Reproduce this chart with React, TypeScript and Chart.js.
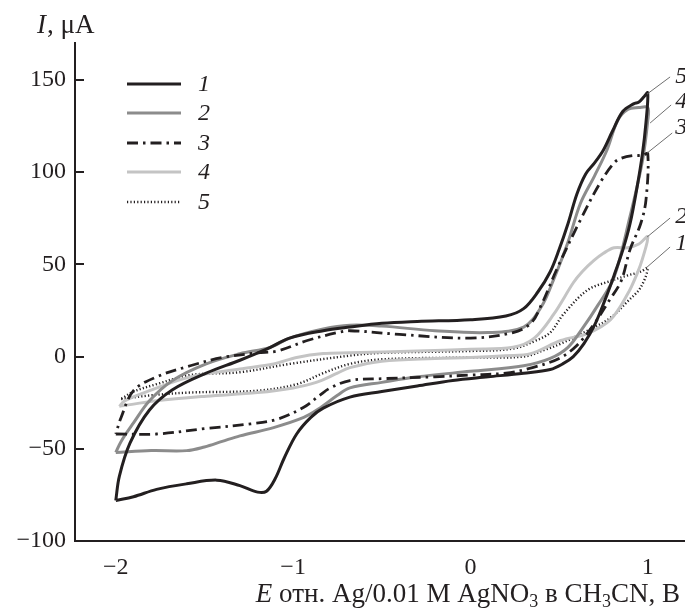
import React, { useEffect, useRef } from "react";
import { Chart, registerables } from "chart.js";
Chart.register(...registerables);

// Curve 1 (black solid): forward (lower) branch then reverse (upper) branch
const E1 = [-2.0, -1.9, -1.77, -1.6, -1.43, -1.3, -1.2, -1.15, -1.1, -1.05, -0.98, -0.9, -0.83, -0.68, -0.5, -0.3, -0.1, 0.1, 0.3, 0.45, 0.52, 0.58, 0.64, 0.7, 0.76, 0.81, 0.86, 0.9, 0.94, 0.97, 0.99, 1.0,
  0.98, 0.95, 0.92, 0.86, 0.8, 0.75, 0.7, 0.65, 0.6, 0.55, 0.5, 0.45, 0.38, 0.3, 0.2, 0.0, -0.3, -0.5, -0.68, -0.83, -1.02, -1.15, -1.3, -1.49, -1.68, -1.81, -1.92, -1.98, -2.0];
const I1 = [-78, -76, -72, -69, -67, -70, -73.5, -73, -66, -55, -42, -33, -28, -22, -19, -16, -13, -11, -9, -7, -4, 0, 7, 17, 31, 44, 58, 72, 92, 110, 127, 143,
  141, 138, 137, 133, 122, 112, 105, 99, 88, 72, 58, 46, 35, 26, 22, 20, 19, 18, 16, 14, 10, 4, -2, -9, -18, -29, -47, -65, -78];

// Curve 2 (gray solid)
const E2 = [-2.0, -1.8, -1.6, -1.5, -1.4, -1.3, -1.11, -0.94, -0.85, -0.75, -0.68, -0.5, -0.3, 0.0, 0.3, 0.45, 0.55, 0.63, 0.72, 0.81, 0.9, 0.97, 1.0, 1.0,
  0.95, 0.887, 0.83, 0.77, 0.7, 0.62, 0.55, 0.47, 0.4, 0.3, 0.1, -0.2, -0.5, -0.68, -0.83, -1.02, -1.13, -1.3, -1.49, -1.68, -1.81, -1.9, -1.97, -2.0];
const I2 = [-52, -51, -51, -49, -46, -43, -38.5, -33, -28, -21, -17, -14, -11, -8, -5, -1, 5, 15, 28, 43, 76, 106, 128, 135,
  135, 134, 128, 112, 98, 83, 62, 42, 27, 16, 13, 14, 16.5, 17, 15, 10, 5, 1.5, -4, -13, -24, -36, -46, -52];

// Curve 3 (black dash-dot)
const E3 = [-2.0, -1.77, -1.49, -1.24, -1.09, -0.94, -0.85, -0.79, -0.68, -0.5, -0.2, 0.0, 0.2, 0.35, 0.5, 0.6, 0.7, 0.78, 0.85, 0.9, 0.96, 0.99, 1.0,
  0.97, 0.92, 0.85, 0.81, 0.73, 0.62, 0.49, 0.4, 0.34, 0.24, 0.0, -0.4, -0.68, -0.75, -0.92, -1.09, -1.2, -1.4, -1.58, -1.77, -1.9, -1.97, -2.0];
const I3 = [-42, -42, -39, -36.5, -34, -27.5, -21, -17, -13, -12, -11, -10, -9, -6, -1, 6, 18, 30, 41, 58, 72, 85, 110,
  109, 109, 107.5, 105, 94, 74, 48, 28, 18, 13, 10, 12, 14, 13, 8.7, 3, 2, -0.5, -5, -11, -18.5, -33, -42];

// Curve 4 (light gray solid)
const E4 = [-1.98, -1.77, -1.49, -1.2, -1.0, -0.87, -0.75, -0.68, -0.5, -0.2, 0.0, 0.2, 0.34, 0.51, 0.66, 0.79, 0.887, 0.94, 0.97, 1.0,
  0.95, 0.887, 0.81, 0.75, 0.695, 0.63, 0.58, 0.47, 0.36, 0.24, 0.0, -0.3, -0.68, -0.83, -0.98, -1.11, -1.3, -1.58, -1.81, -1.95, -1.98];
const I4 = [-27, -24, -21.5, -19.5, -17, -14, -9, -6, -2.5, -1, -0.5, 0.5, 1.6, 8.7, 12.5, 20, 34, 45, 53, 65,
  61, 59, 59, 56, 52, 46, 40, 23, 10, 5, 4, 3, 2, 1.6, -0.5, -4, -6.7, -11, -18.5, -24, -27];

// Curve 5 (dotted)
const E5 = [-1.97, -1.8, -1.58, -1.2, -0.98, -0.83, -0.68, -0.5, 0.0, 0.3, 0.43, 0.51, 0.66, 0.79, 0.887, 0.96, 1.0,
  0.96, 0.887, 0.79, 0.66, 0.525, 0.45, 0.37, 0.24, 0.0, -0.5, -0.68, -1.02, -1.3, -1.58, -1.77, -1.9, -1.97];
const I5 = [-23, -21, -19.5, -18.5, -15, -9, -4, -1.5, -0.5, 0, 4, 7, 14, 21, 30, 37.5, 48,
  46, 44, 41, 36, 23, 13, 8.7, 4.3, 3, 2, 0.5, -4, -8.5, -10, -15, -19, -23];

const xTicks = [-2, -1, 0, 1];
const yTicks = [-100, -50, 0, 50, 100, 150];
const legendLabels = ["1", "2", "3", "4", "5"];

// callout labels near the right edge, with leader lines (data coordinates)
const calloutLabels = ["5", "4", "3", "2", "1"];
const calloutLabelE = [1.155, 1.155, 1.155, 1.155, 1.155];
const calloutLabelI = [152, 138, 124, 76, 61];
const calloutFromE = [1.126, 1.132, 1.138, 1.126, 1.126];
const calloutFromI = [151.6, 136.4, 121.2, 75.1, 59.4];
const calloutToE = [0.996, 1.013, 0.996, 0.996, 0.996];
const calloutToI = [142.3, 126.6, 110.3, 64.8, 48.5];

const AXIS = "#231f20";
const FONT = '"Liberation Serif", "Times New Roman", serif';

const STYLES = [
  { color: "#231f20", width: 3, dash: [] as number[] },
  { color: "#8c8c8c", width: 3, dash: [] as number[] },
  { color: "#231f20", width: 2.8, dash: [11, 5, 2.5, 5] },
  { color: "#c4c4c4", width: 3, dash: [] as number[] },
  { color: "#231f20", width: 2.4, dash: [1.2, 2.2] },
];

const pts = (E: number[], I: number[]) => E.map((e, i) => ({ x: e, y: I[i] }));

const overlay = {
  id: "overlay",
  afterDraw(chart: any) {
    const ctx: CanvasRenderingContext2D = chart.ctx;
    const xs = chart.scales.x;
    const ys = chart.scales.y;
    const left = chart.chartArea.left;
    ctx.save();
    // inward y tick marks
    ctx.strokeStyle = AXIS;
    ctx.lineWidth = 2;
    yTicks.forEach((v) => {
      if (v === -100) return;
      const py = Math.round(ys.getPixelForValue(v));
      ctx.beginPath();
      ctx.moveTo(left, py);
      ctx.lineTo(left + 9, py);
      ctx.stroke();
    });

    // legend
    const legY = [84, 113, 143, 172, 202];
    legendLabels.forEach((lab, k) => {
      const s = STYLES[k];
      ctx.strokeStyle = s.color;
      ctx.lineWidth = s.width;
      ctx.setLineDash(s.dash);
      ctx.beginPath();
      ctx.moveTo(127, legY[k]);
      ctx.lineTo(181, legY[k]);
      ctx.stroke();
      ctx.setLineDash([]);
      ctx.fillStyle = AXIS;
      ctx.font = `italic 24px ${FONT}`;
      ctx.textAlign = "left";
      ctx.textBaseline = "middle";
      ctx.fillText(lab, 198, legY[k] + 1);
    });

    // callouts
    ctx.strokeStyle = "#6f6f6f";
    ctx.lineWidth = 1;
    calloutLabels.forEach((lab, k) => {
      ctx.beginPath();
      ctx.moveTo(xs.getPixelForValue(calloutFromE[k]), ys.getPixelForValue(calloutFromI[k]));
      ctx.lineTo(xs.getPixelForValue(calloutToE[k]), ys.getPixelForValue(calloutToI[k]));
      ctx.stroke();
      ctx.fillStyle = AXIS;
      ctx.font = `italic 24px ${FONT}`;
      ctx.textAlign = "left";
      ctx.textBaseline = "middle";
      ctx.fillText(lab, xs.getPixelForValue(calloutLabelE[k]), ys.getPixelForValue(calloutLabelI[k]));
    });

    // y axis title
    ctx.textBaseline = "alphabetic";
    ctx.textAlign = "left";
    ctx.fillStyle = AXIS;
    ctx.font = `italic 27px ${FONT}`;
    ctx.fillText("I", 37, 33);
    const wI = ctx.measureText("I").width;
    ctx.font = `27px ${FONT}`;
    ctx.fillText(", \u03bcA", 37 + wI + 1, 33);

    // x axis title with subscripts
    const parts = [
      { t: "E", it: true, sub: false },
      { t: " отн. Ag/0.01 M AgNO", it: false, sub: false },
      { t: "3", it: false, sub: true },
      { t: " в CH", it: false, sub: false },
      { t: "3", it: false, sub: true },
      { t: "CN, В", it: false, sub: false },
    ];
    const fontFor = (p: any) => `${p.it ? "italic " : ""}${p.sub ? 18 : 27}px ${FONT}`;
    let total = 0;
    parts.forEach((p) => {
      ctx.font = fontFor(p);
      total += ctx.measureText(p.t).width;
    });
    let cx = 680 - total;
    parts.forEach((p) => {
      ctx.font = fontFor(p);
      ctx.fillText(p.t, cx, 602 + (p.sub ? 5 : 0));
      cx += ctx.measureText(p.t).width;
    });
    ctx.restore();
  },
};

export default function App() {
  const ref = useRef<HTMLCanvasElement | null>(null);
  useEffect(() => {
    if (!ref.current) return;
    const series = [
      { d: pts(E1, I1), s: STYLES[0] },
      { d: pts(E3, I3), s: STYLES[2] },
      { d: pts(E2, I2), s: STYLES[1] },
      { d: pts(E4, I4), s: STYLES[3] },
      { d: pts(E5, I5), s: STYLES[4] },
    ];
    const chart = new Chart(ref.current, {
      type: "scatter",
      data: {
        datasets: series.map((o) => ({
          data: o.d,
          showLine: true,
          borderColor: o.s.color,
          borderWidth: o.s.width,
          borderDash: o.s.dash,
          pointRadius: 0,
          tension: 0.35,
          fill: false,
        })),
      },
      options: {
        animation: false,
        responsive: false,
        devicePixelRatio: 1,
        layout: { padding: { top: 43, right: 0, left: 0, bottom: 0 } },
        plugins: { legend: { display: false }, tooltip: { enabled: false } },
        scales: {
          x: {
            type: "linear",
            min: -2.23,
            max: 1.21,
            grid: { display: false, drawTicks: false },
            border: { display: true, color: AXIS, width: 2 },
            afterBuildTicks: (sc: any) => { sc.ticks = xTicks.map((v) => ({ value: v })); },
            afterFit: (sc: any) => { sc.height = 70; },
            ticks: {
              padding: 12,
              color: AXIS,
              font: { family: FONT, size: 24 },
              callback: (v: any) => (v < 0 ? "\u2212" + Math.abs(v) : String(v)),
            },
          },
          y: {
            type: "linear",
            min: -100,
            max: 170,
            grid: { display: false, drawTicks: false },
            border: { display: true, color: AXIS, width: 2 },
            afterBuildTicks: (sc: any) => { sc.ticks = yTicks.map((v) => ({ value: v })); },
            afterFit: (sc: any) => { sc.width = 75; },
            ticks: {
              padding: 9,
              color: AXIS,
              font: { family: FONT, size: 24 },
              callback: (v: any) => (v < 0 ? "\u2212" + Math.abs(v) : String(v)),
            },
          },
        },
      },
      plugins: [overlay],
    } as any);
    return () => chart.destroy();
  }, []);
  return (
    <div style={{ position: "absolute", left: 0, top: 0, width: 685, height: 611, background: "#fff" }}>
      <canvas ref={ref} width={685} height={611} style={{ display: "block" }} />
    </div>
  );
}
